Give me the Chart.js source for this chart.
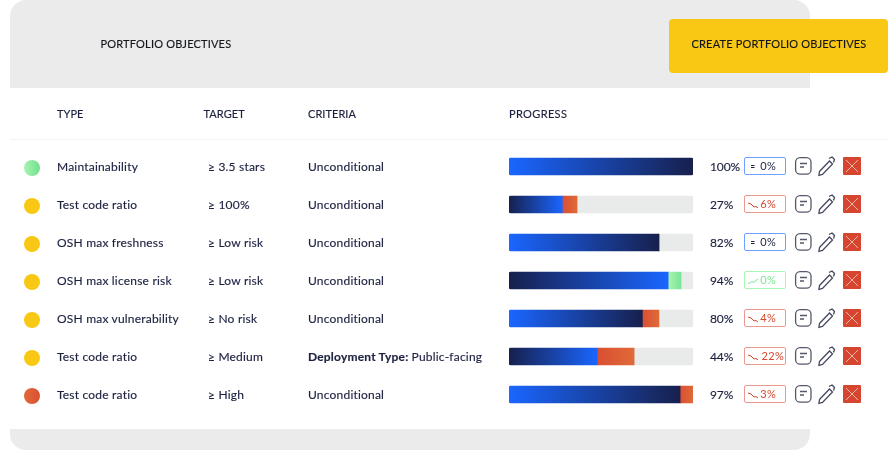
<!DOCTYPE html>
<html><head><meta charset="utf-8">
<script src="https://cdn.jsdelivr.net/npm/chart.js@4"></script>
<style>
html,body{margin:0;padding:0;background:#fff;width:889px;height:450px;overflow:hidden}
body{position:relative;font-family:Lato,sans-serif;color:#1c2140;font-size:12px;letter-spacing:.2px;-webkit-text-stroke:.15px}
#panel{position:absolute;left:10px;top:0;width:800px;height:450px;background:#ebebeb;border-radius:16px}
#white{position:absolute;left:10px;top:88px;width:800px;height:341px;background:#fff}
#sep{position:absolute;left:10px;top:139px;width:879px;height:1px;background:#f4f4f4}
#btn{position:absolute;left:669px;top:19px;width:219px;height:54px;background:#f8c815;border-radius:4px}
canvas{position:absolute;left:0;top:0}
.t{position:absolute;white-space:nowrap;line-height:16px}
.dot{position:absolute;left:24px;width:16px;height:16px;border-radius:50%}
.badge{position:absolute;left:744px;width:42px;height:18px;box-sizing:border-box;border:1.5px solid;border-radius:2px;background:#fff;font-size:11px;line-height:15px;white-space:nowrap;-webkit-text-stroke:0}
.badge svg{position:absolute;left:3px;top:3px}
.badge span{position:absolute;top:0;letter-spacing:.3px}
.ic{position:absolute}
</style></head><body>
<div id="panel"></div><div id="white"></div><div id="sep"></div><div id="btn"></div>
<canvas id="c" width="889" height="450"></canvas>
<div id="ov"></div>
<script>
const title = "PORTFOLIO OBJECTIVES";
const buttonLabel = "CREATE PORTFOLIO OBJECTIVES";
const headers = ["TYPE","TARGET","CRITERIA","PROGRESS"];
const types = ["Maintainability","Test code ratio","OSH max freshness","OSH max license risk","OSH max vulnerability","Test code ratio","Test code ratio"];
const targets = ["≥ 3.5 stars","≥ 100%","≥ Low risk","≥ Low risk","≥ No risk","≥ Medium","≥ High"];
const criteriaBold = ["","","","","","Deployment Type:",""];
const criteria = ["Unconditional","Unconditional","Unconditional","Unconditional","Unconditional","Public-facing","Unconditional"];
const percents = ["100%","27%","82%","94%","80%","44%","97%"];
const deltas = ["0%","6%","0%","0%","4%","22%","3%"];
const trends = ["flat","down","flat","up","down","down","down"];
const statuses = ["green","yellow","yellow","yellow","yellow","yellow","red"];
const baseBar = [100,29,81.5,86.5,72.5,48,93];
const deltaBar = [0,8,0,7,9,20,7];
const reversed = [false,true,false,true,false,true,false];

const ov = document.getElementById('ov');
function text(x,y,s,extra){const d=document.createElement('div');d.className='t';d.style.left=x+'px';d.style.top=(y-8)+'px';d.textContent=s;if(extra)Object.assign(d.style,extra);ov.appendChild(d);return d;}
const capsStyle={color:'#15161c',letterSpacing:'.18px',fontSize:'11px'};
text(100.5,44,title,capsStyle);
text(691.5,44,buttonLabel,capsStyle);
[57,203.5,308,509].forEach((x,i)=>text(x,114,headers[i],{fontSize:'11px',letterSpacing:i==3?'.35px':'.05px'}));
const dotFill={green:'linear-gradient(90deg,#a9f3b2,#6fe08e)',yellow:'#f8c815',red:'linear-gradient(90deg,#e06a38,#d94f32)'};
const tr={flat:{c:'#6ea1ff',t:'#1c2140'},down:{c:'#ea9a8d',t:'#d9472f'},up:{c:'#a8f5b4',t:'#7be795'}};
const arrows={flat:'<path d="M3 4.5h3.5M3 6.5h3.5" stroke="#1c2140" stroke-width="1"/>',down:'<path d="M0 4l3 1 3 3 2-0.5 2 1.5" stroke="#d9472f" fill="none"/>',up:'<path d="M0 9l3-2 3 0 4-3" stroke="#7be795" fill="none"/>'};
types.forEach((n,i)=>{
  const y=167+38*i;
  const dot=document.createElement('div');dot.className='dot';dot.style.top=(y-7)+'px';dot.style.background=dotFill[statuses[i]];ov.appendChild(dot);
  text(57,y,n);text(208,y,targets[i]);
  const c=text(308,y,'');
  if(criteriaBold[i]){const b=document.createElement('b');b.textContent=criteriaBold[i]+' ';c.appendChild(b);}
  c.appendChild(document.createTextNode(criteria[i]));
  text(710,y,percents[i],{letterSpacing:'-.1px'});
  const st=tr[trends[i]];
  const b=document.createElement('div');b.className='badge';b.style.top=(y-10)+'px';b.style.borderColor=st.c;
  const sp=deltas[i].length>2?1:9;
  b.innerHTML='<svg width="11" height="10" viewBox="0 0 11 10">'+arrows[trends[i]]+'</svg><span style="color:'+st.t+';right:'+sp+'px">'+deltas[i]+'</span>';
  ov.appendChild(b);
  const ic=document.createElement('div');ic.className='ic';ic.style.left='0';ic.style.top=(y-167)+'px';
  ic.innerHTML='<svg width="889" height="40" style="position:absolute;left:0;top:150px" viewBox="0 150 889 40">'+
   '<rect x="795.6" y="157.6" width="15.4" height="16.6" rx="4.5" fill="none" stroke="#55586a" stroke-width="1.3"/><path d="M800 163.5h7M800 167h4" stroke="#55586a" stroke-width="1.3"/>'+
   '<path d="M819.5 171.5l10-10.5 3 3-10 10.5-3.6 .8z" fill="none" stroke="#45485f" stroke-width="1.3"/><path d="M829 158.5l3-1.5 2.5 2.5-1 3" fill="none" stroke="#45485f" stroke-width="1.3"/>'+
   '<rect x="843" y="157" width="18" height="18" rx="1" fill="#d6452f"/><path d="M846 160l12 12M858 160l-12 12" stroke="#f4b5a5" stroke-width="1"/></svg>';
  ov.appendChild(ic);
});

function hGrad(ctx,val,start,from,to){
  const x=ctx.chart.scales.x; if(!x) return from;
  const a=x.getPixelForValue(start),b=x.getPixelForValue(start+val);
  if(!isFinite(a)||!isFinite(b)||a===b) return from;
  const g=ctx.chart.ctx.createLinearGradient(a,0,b,0);
  g.addColorStop(0,from);g.addColorStop(1,to);return g;
}
new Chart(document.getElementById('c'),{
  type:'bar',
  data:{labels:types,datasets:[
    {data:baseBar,barThickness:17,borderSkipped:false,
     borderRadius:c=>({topLeft:2,bottomLeft:2,topRight:baseBar[c.dataIndex]>=100?2:0,bottomRight:baseBar[c.dataIndex]>=100?2:0}),
     backgroundColor:c=>{const i=c.dataIndex;return reversed[i]?hGrad(c,baseBar[i],0,'#17204d','#1a66ff'):hGrad(c,baseBar[i],0,'#1a66ff','#17204d');}},
    {data:deltaBar,barThickness:17,borderSkipped:false,borderRadius:0,
     backgroundColor:c=>{const i=c.dataIndex;return trends[i]==='up'?hGrad(c,deltaBar[i],baseBar[i],'#a9f3b2','#79e596'):hGrad(c,deltaBar[i],baseBar[i],'#d94f32','#e06a38');}},
    {data:baseBar.map((v,i)=>100-v-deltaBar[i]),barThickness:17,borderSkipped:false,backgroundColor:'#e9eaea',
     borderRadius:{topRight:2,bottomRight:2,topLeft:0,bottomLeft:0}}
  ]},
  options:{indexAxis:'y',responsive:false,animation:false,
    layout:{padding:{left:509,right:196,top:147.5,bottom:36.5}},
    plugins:{legend:{display:false},tooltip:{enabled:false}},
    scales:{x:{stacked:true,display:false,min:0,max:100},y:{stacked:true,display:false}}}
});
</script></body></html>
